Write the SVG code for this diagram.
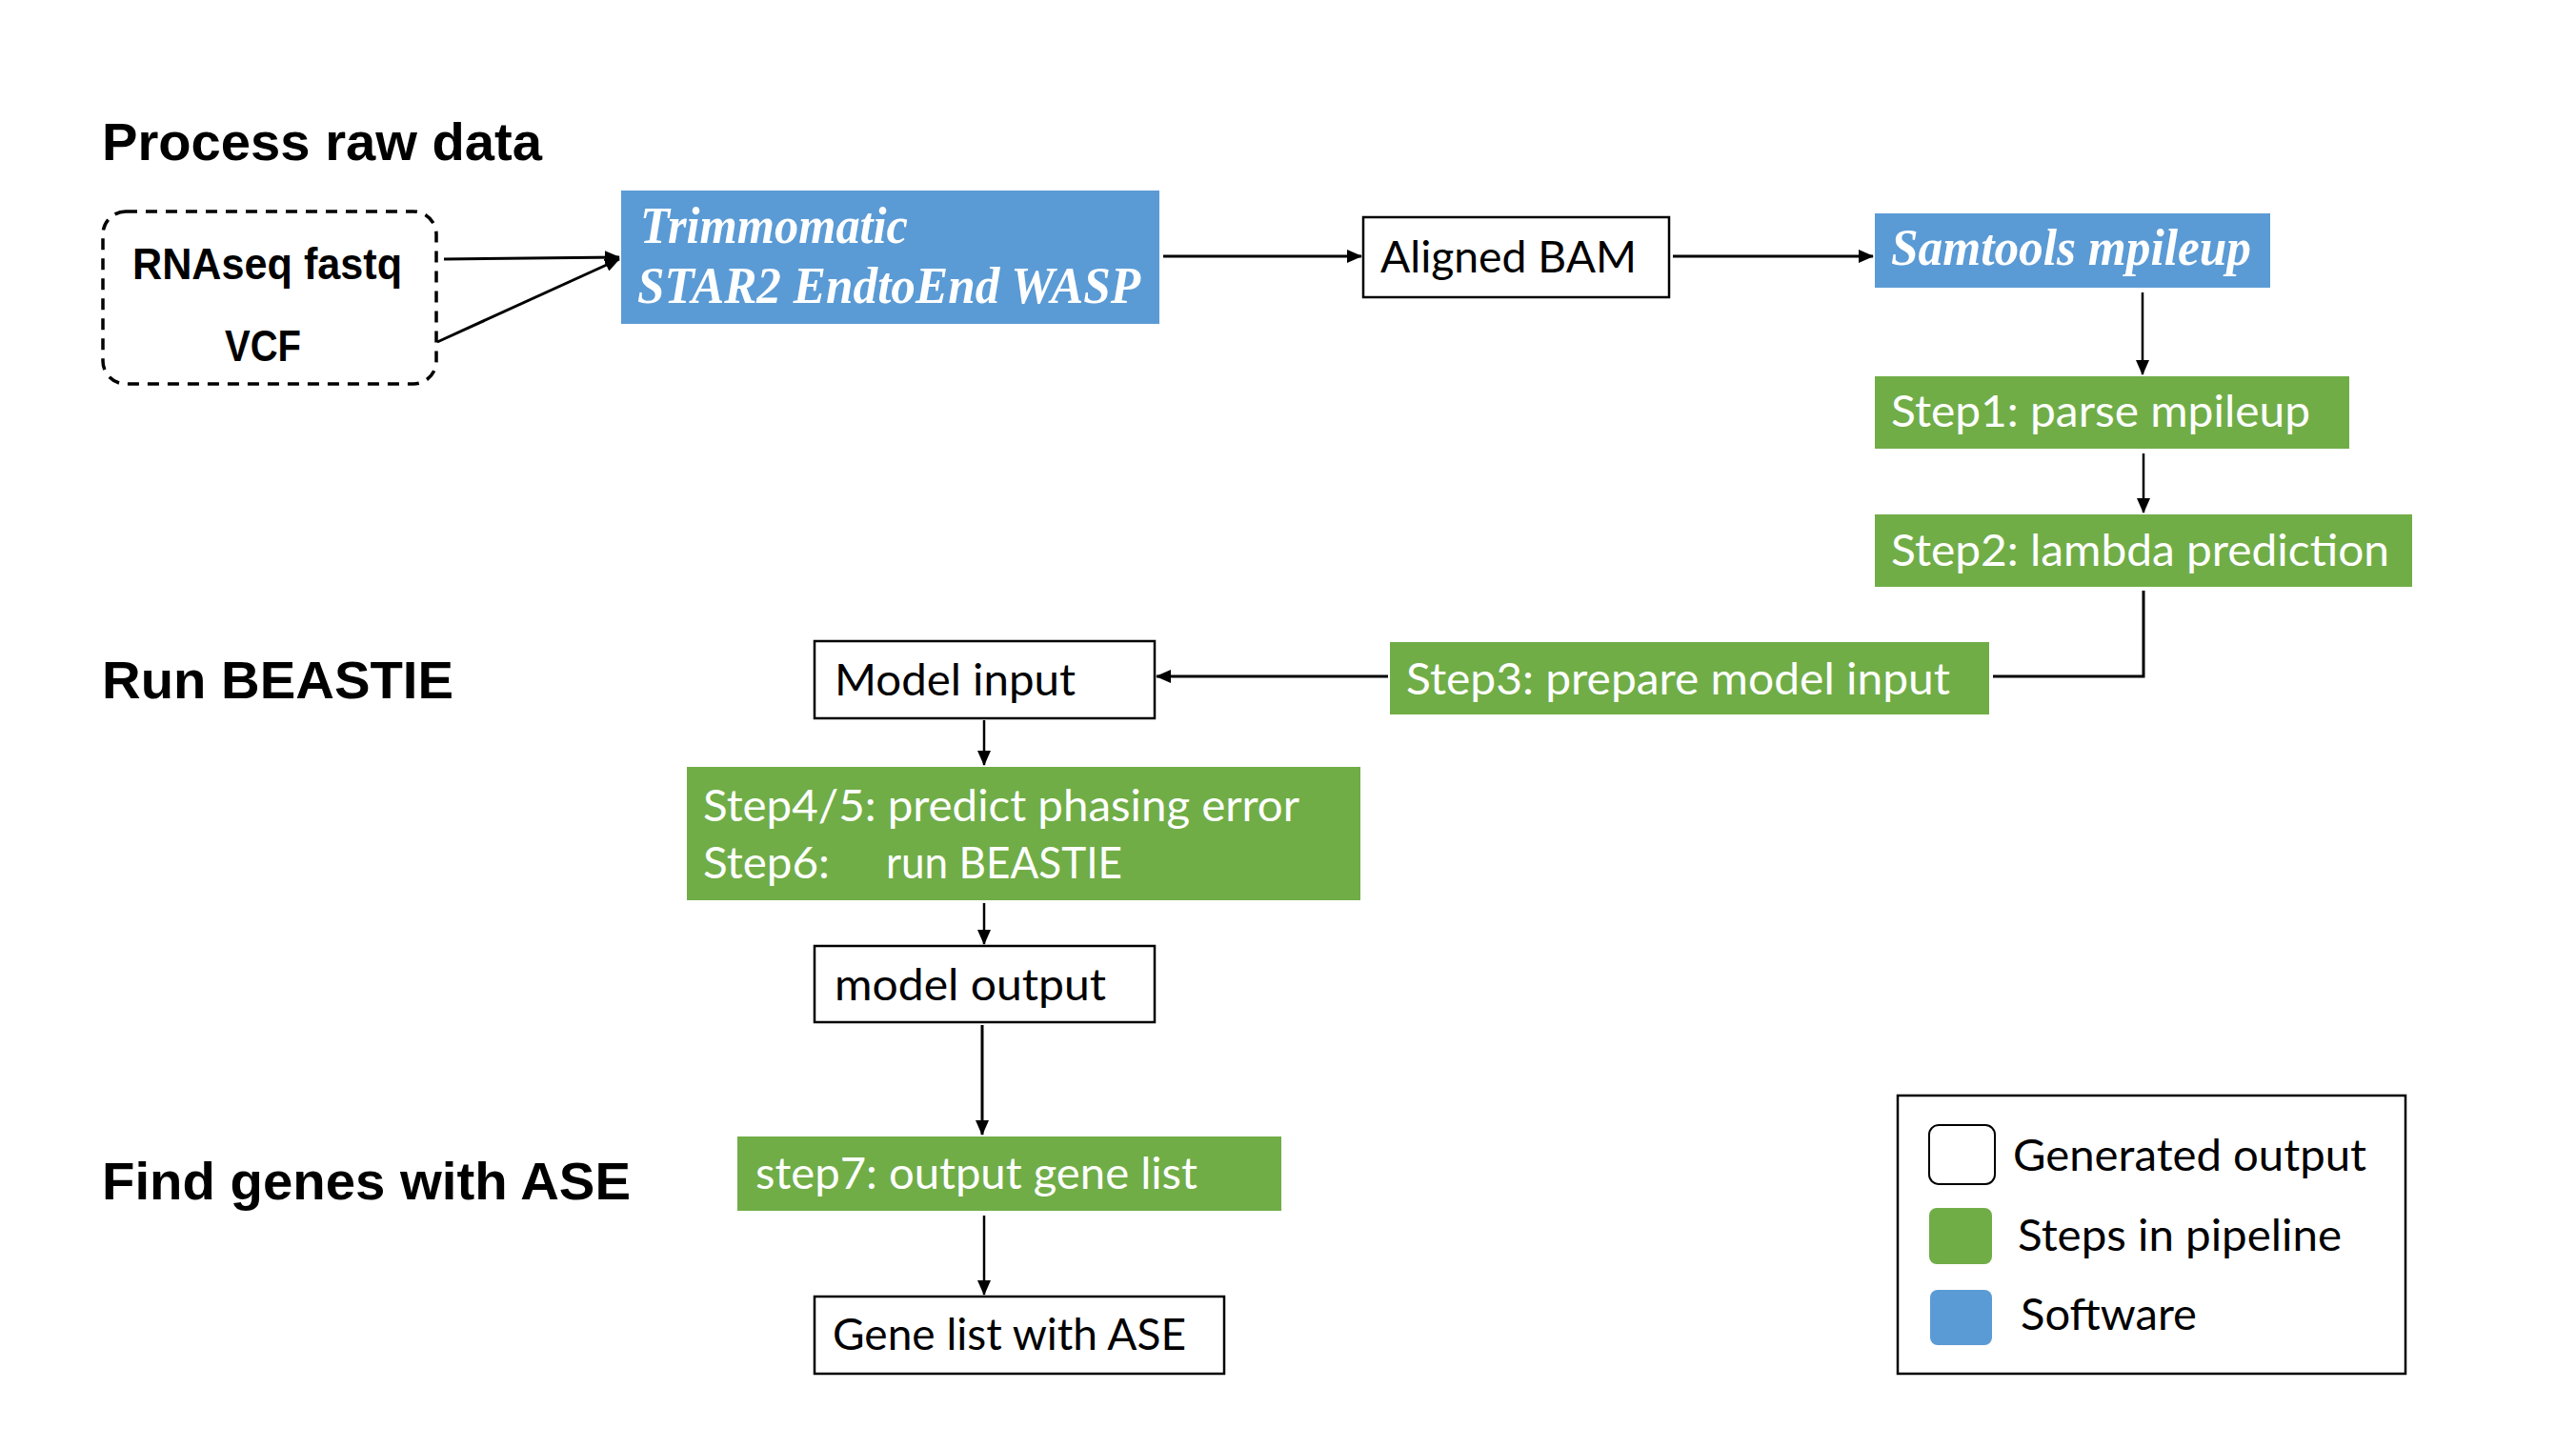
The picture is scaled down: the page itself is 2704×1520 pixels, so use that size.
<svg xmlns="http://www.w3.org/2000/svg" width="2704" height="1520" viewBox="0 0 2704 1520">
<defs>
<marker id="ah" markerUnits="userSpaceOnUse" markerWidth="16" markerHeight="14" refX="15" refY="7" orient="auto">
<path d="M0,0 L16,7 L0,14 z" fill="#000"/>
</marker>
<style>
.hdr{font-family:"Liberation Sans",Arial,sans-serif;font-weight:bold;font-size:56px;fill:#000}
.inp{font-family:"Liberation Sans Narrow","Liberation Sans",Arial,sans-serif;font-weight:bold;font-size:46px;fill:#000}
.sw{font-family:"Liberation Serif","Times New Roman",serif;font-weight:bold;font-style:italic;font-size:54px;fill:#fff}
.lbl{font-family:Lato,"Open Sans",sans-serif;font-size:47px;fill:#000}
.wl{font-family:Lato,"Open Sans",sans-serif;font-size:47px;fill:#fff}
.blue{fill:#5B9BD5}
.green{fill:#70AD47}
.out{fill:#fff;stroke:#000;stroke-width:2.5}
.conn path{fill:none;stroke:#000;stroke-width:3}
</style>
</defs>
<rect width="2704" height="1520" fill="#fff"/>

<text class="hdr" x="107" y="168" textLength="462" lengthAdjust="spacingAndGlyphs">Process raw data</text>
<text class="hdr" x="107" y="733" textLength="369" lengthAdjust="spacingAndGlyphs">Run BEASTIE</text>
<text class="hdr" x="107" y="1259" textLength="555" lengthAdjust="spacingAndGlyphs">Find genes with ASE</text>

<g id="input">
<rect x="108" y="222" width="350" height="181" rx="24" fill="none" stroke="#000" stroke-width="3.5" stroke-dasharray="12,9"/>
<text class="inp" x="139" y="293" textLength="283" lengthAdjust="spacingAndGlyphs">RNAseq fastq</text>
<text class="inp" x="236" y="379" textLength="80" lengthAdjust="spacingAndGlyphs">VCF</text>
</g>

<g id="star">
<rect class="blue" x="652" y="200" width="565" height="140"/>
<text class="sw" x="672" y="255" textLength="281" lengthAdjust="spacingAndGlyphs">Trimmomatic</text>
<text class="sw" x="669" y="318" textLength="528" lengthAdjust="spacingAndGlyphs">STAR2 EndtoEnd WASP</text>
</g>

<g id="bam">
<rect class="out" x="1431" y="228" width="321" height="84"/>
<text class="lbl" x="1449" y="286" textLength="269" lengthAdjust="spacingAndGlyphs">Aligned BAM</text>
</g>

<g id="samtools">
<rect class="blue" x="1968" y="224" width="415" height="78"/>
<text class="sw" x="1985" y="278" textLength="378" lengthAdjust="spacingAndGlyphs">Samtools mpileup</text>
</g>

<g id="step1">
<rect class="green" x="1968" y="395" width="498" height="76"/>
<text class="wl" x="1985" y="448" textLength="440" lengthAdjust="spacingAndGlyphs">Step1: parse mpileup</text>
</g>

<g id="step2">
<rect class="green" x="1968" y="540" width="564" height="76"/>
<text class="wl" x="1985" y="594" textLength="523" lengthAdjust="spacingAndGlyphs">Step2: lambda prediction</text>
</g>

<g id="step3">
<rect class="green" x="1459" y="674" width="629" height="76"/>
<text class="wl" x="1476" y="729" textLength="571" lengthAdjust="spacingAndGlyphs">Step3: prepare model input</text>
</g>

<g id="modelinput">
<rect class="out" x="855" y="673" width="357" height="81"/>
<text class="lbl" x="876" y="730" textLength="253" lengthAdjust="spacingAndGlyphs">Model input</text>
</g>

<g id="step456">
<rect class="green" x="721" y="805" width="707" height="140"/>
<text class="wl" x="738" y="862" textLength="626" lengthAdjust="spacingAndGlyphs">Step4/5: predict phasing error</text>
<text class="wl" x="738" y="922" textLength="133" lengthAdjust="spacingAndGlyphs">Step6:</text>
<text class="wl" x="930" y="922" textLength="248" lengthAdjust="spacingAndGlyphs">run BEASTIE</text>
</g>

<g id="modeloutput">
<rect class="out" x="855" y="993" width="357" height="80"/>
<text class="lbl" x="876" y="1050" textLength="285" lengthAdjust="spacingAndGlyphs">model output</text>
</g>

<g id="step7">
<rect class="green" x="774" y="1193" width="571" height="78"/>
<text class="wl" x="793" y="1248" textLength="464" lengthAdjust="spacingAndGlyphs">step7: output gene list</text>
</g>

<g id="genelist">
<rect class="out" x="855" y="1361" width="430" height="81"/>
<text class="lbl" x="874" y="1417" textLength="371" lengthAdjust="spacingAndGlyphs">Gene list with ASE</text>
</g>

<g id="legend">
<rect x="1992" y="1150" width="533" height="292" fill="#fff" stroke="#000" stroke-width="2.5"/>
<rect x="2025" y="1181" width="69" height="62" rx="10" fill="#fff" stroke="#000" stroke-width="2"/>
<text class="lbl" x="2113" y="1229" textLength="371" lengthAdjust="spacingAndGlyphs">Generated output</text>
<rect class="green" x="2025" y="1268" width="66" height="59" rx="8"/>
<text class="lbl" x="2118" y="1313" textLength="340" lengthAdjust="spacingAndGlyphs">Steps in pipeline</text>
<rect class="blue" x="2026" y="1354" width="65" height="58" rx="8"/>
<text class="lbl" x="2121" y="1396" textLength="185" lengthAdjust="spacingAndGlyphs">Software</text>
</g>

<g id="connectors" class="conn">
<path d="M466,272 L650,270" marker-end="url(#ah)"/>
<path d="M459,359 L650,272" marker-end="url(#ah)"/>
<path d="M1221,269 L1429,269" marker-end="url(#ah)"/>
<path d="M1756,269 L1966,269" marker-end="url(#ah)"/>
<path d="M2249,307 L2249,393" marker-end="url(#ah)" style="stroke-width:2.5"/>
<path d="M2250,476 L2250,538" marker-end="url(#ah)" style="stroke-width:2.5"/>
<path d="M2250,620 L2250,710 L2092,710"/>
<path d="M1457,710 L1214,710" marker-end="url(#ah)"/>
<path d="M1033,756 L1033,803" marker-end="url(#ah)" style="stroke-width:2.5"/>
<path d="M1033,948 L1033,991" marker-end="url(#ah)" style="stroke-width:2.5"/>
<path d="M1031,1076 L1031,1191" marker-end="url(#ah)"/>
<path d="M1033,1276 L1033,1359" marker-end="url(#ah)" style="stroke-width:2.5"/>
</g>
</svg>
